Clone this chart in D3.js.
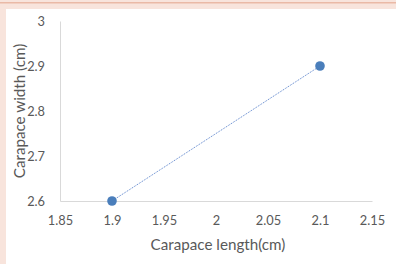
<!DOCTYPE html>
<html><head><meta charset="utf-8">
<script src="https://cdn.jsdelivr.net/npm/d3@7"></script>
<style>
html,body{margin:0;padding:0;background:#fff;}
svg{display:block;}
text{font-family:Lato,"Open Sans",sans-serif;fill:#595959;}
</style></head>
<body>
<script>
const lengths = [1.9, 2.1];
const widths = [2.6, 2.9];
const xTicks = [1.85, 1.9, 1.95, 2, 2.05, 2.1, 2.15];
const yTicks = [2.6, 2.7, 2.8, 2.9, 3];
const xTitle = "Carapace length(cm)";
const yTitle = "Carapace width (cm)";

const W = 396, H = 264;
const svg = d3.select("body").append("svg").attr("width", W).attr("height", H);

// frame background bands
svg.append("rect").attr("x",0).attr("y",0).attr("width",W).attr("height",H).attr("fill","#f8e4dc");
svg.append("rect").attr("x",0).attr("y",2).attr("width",W).attr("height",1.5).attr("fill","#eab9a6");
svg.append("rect").attr("x",6).attr("y",9).attr("width",W-6).attr("height",H-9).attr("fill","#ffffff");

const x = d3.scaleLinear().domain([1.85, 2.15]).range([60, 372]);
const y = d3.scaleLinear().domain([2.6, 3]).range([201, 21]);

const fmt = d => String(+d.toFixed(2));
const tickFont = 12.8;

// axes
const xa = svg.append("g").attr("transform", `translate(0,${y(2.6)})`)
  .call(d3.axisBottom(x).tickValues(xTicks).tickFormat(fmt).tickSize(0).tickPadding(15));
xa.select(".domain").attr("stroke","#d9d9d9").attr("stroke-width",1);
xa.selectAll("text").attr("font-size",tickFont).attr("fill","#595959").style("font-family","Lato,'Open Sans',sans-serif");

const ya = svg.append("g").attr("transform", `translate(${x(1.85)},0)`)
  .call(d3.axisLeft(y).tickValues(yTicks).tickFormat(fmt).tickSize(0).tickPadding(15));
ya.select(".domain").attr("stroke","#d9d9d9").attr("stroke-width",1);
ya.selectAll("text").attr("font-size",tickFont).attr("fill","#595959").style("font-family","Lato,'Open Sans',sans-serif");

// line
const pts = lengths.map((v,i)=>[v, widths[i]]);
svg.append("path").datum(pts)
  .attr("d", d3.line().x(d=>x(d[0])).y(d=>y(d[1])))
  .attr("fill","none").attr("stroke","#4472c4").attr("stroke-width",0.9)
  .attr("stroke-dasharray","1,1");

svg.selectAll("circle.pt").data(pts).enter().append("circle")
  .attr("class","pt").attr("cx",d=>x(d[0])).attr("cy",d=>y(d[1])).attr("r",4.8)
  .attr("fill","#4a7ebb");

// titles
svg.append("text").attr("x", 218).attr("y", 250).attr("text-anchor","middle")
  .attr("font-size",15.2).text(xTitle);
svg.append("text").attr("transform","translate(25,111) rotate(-90)").attr("text-anchor","middle")
  .attr("font-size",15.2).text(yTitle);
</script>
</body></html>
